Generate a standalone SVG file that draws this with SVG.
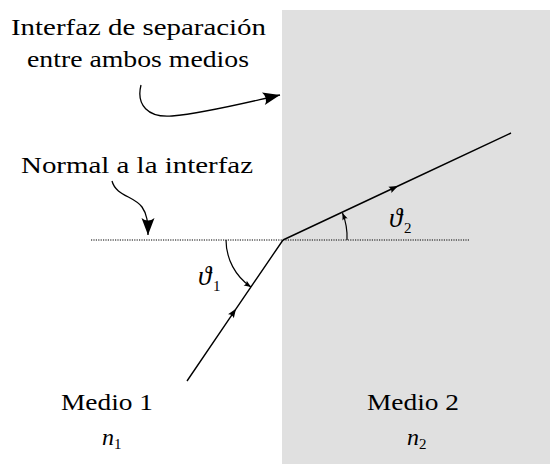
<svg xmlns="http://www.w3.org/2000/svg" width="550" height="464" viewBox="0 0 550 464">
<style>
.t{font-size:24px;fill:#000}
.m{font-style:italic;font-size:24px;fill:#000}
.th{font-style:italic;font-size:27px;fill:#000}
.s{font-size:15px;fill:#000}
.ray{fill:none;stroke:#000;stroke-width:1.4}
.arc{fill:none;stroke:#000;stroke-width:1.2}
.cv{fill:none;stroke:#000;stroke-width:1.3}
</style>
<defs>
<marker id="big" markerUnits="userSpaceOnUse" markerWidth="24" markerHeight="16" viewBox="-20 -8 22 16" refX="0" refY="0" orient="auto">
<path d="M0,0 L-17,-6.5 Q-12,0 -17,6.5 Z" fill="#000"/>
</marker>
<marker id="mid" markerUnits="userSpaceOnUse" markerWidth="14" markerHeight="10" viewBox="-12 -5 14 10" refX="0" refY="0" orient="auto">
<path d="M0,0 L-9,-3.5 Q-6.5,0 -9,3.5 Z" fill="#000"/>
</marker>
<marker id="sm" markerUnits="userSpaceOnUse" markerWidth="10" markerHeight="8" viewBox="-9 -4 10 8" refX="0" refY="0" orient="auto">
<path d="M0,0 L-7,-2.8 Q-5,0 -7,2.8 Z" fill="#000"/>
</marker>
</defs>
<rect x="0" y="0" width="550" height="464" fill="#fff"/>
<g id="medio2-bg"><rect x="282" y="10" width="268" height="454" fill="#e0e0e0"/></g>
<g id="connectors">
<line x1="91" y1="240" x2="469" y2="240" stroke="#000" stroke-width="1.1" stroke-dasharray="1.2,1.2"/>
<path class="ray" d="M187,381 L236,308.8 L283,240" marker-mid="url(#mid)"/>
<path class="ray" d="M283,240 L398,186 L511,133" marker-mid="url(#mid)"/>
<path class="arc" d="M226,240 A57,57 0 0 0 251,287" marker-end="url(#sm)"/>
<path class="arc" d="M347,240 A64,64 0 0 0 342.5,213" marker-end="url(#sm)"/>
<path class="cv" d="M141,85 C136,105 148,118 172,116 C205,113 240,104 280,95" marker-end="url(#big)"/>
<path class="cv" d="M112,181 C116,196 134,196 142,207 C147,214 148,222 148,235" marker-end="url(#big)"/>
</g>
<g font-family="'Liberation Serif', Tinos, 'Times New Roman', Times, 'Noto Serif', 'DejaVu Serif', FreeSerif, serif">
<g id="label-interfaz">
<text class="t" x="138.5" y="35" text-anchor="middle" textLength="255" lengthAdjust="spacingAndGlyphs">Interfaz de separación</text>
<text class="t" x="138" y="67" text-anchor="middle" textLength="222" lengthAdjust="spacingAndGlyphs">entre ambos medios</text>
</g>
<g id="label-normal">
<text class="t" x="137" y="173" text-anchor="middle" textLength="232" lengthAdjust="spacingAndGlyphs">Normal a la interfaz</text>
</g>
<g id="theta1">
<text class="th" x="198" y="285">ϑ</text><text class="s" x="213" y="291">1</text>
</g>
<g id="theta2">
<text class="th" x="389" y="227">ϑ</text><text class="s" x="404" y="233">2</text>
</g>
<g id="medio1">
<text class="t" x="107" y="410" text-anchor="middle" textLength="92" lengthAdjust="spacingAndGlyphs">Medio 1</text>
<text class="m" x="102" y="445">n</text><text class="s" x="114" y="449">1</text>
</g>
<g id="medio2">
<text class="t" x="413" y="410" text-anchor="middle" textLength="92" lengthAdjust="spacingAndGlyphs">Medio 2</text>
<text class="m" x="407" y="445">n</text><text class="s" x="419" y="449">2</text>
</g>
</g>
</svg>
